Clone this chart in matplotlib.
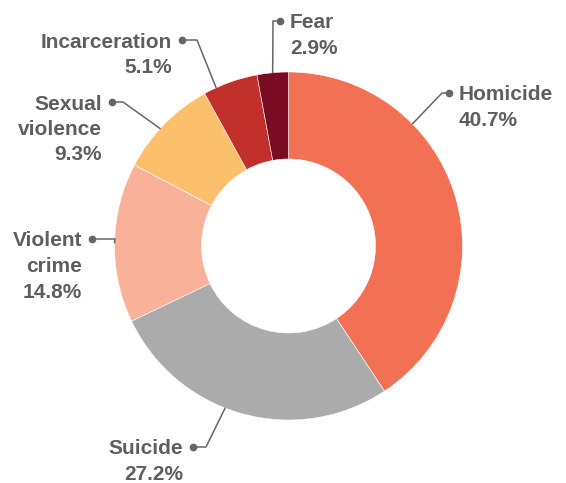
import numpy as np
import matplotlib
matplotlib.use("Agg")
import matplotlib.pyplot as plt

# data, clockwise from 12 o'clock
causes = ["Homicide", "Suicide", "Violent crime", "Sexual violence", "Incarceration", "Fear"]
shares = [40.7, 27.2, 14.8, 9.3, 5.1, 2.9]
label_lines = [["Homicide"], ["Suicide"], ["Violent", "crime"], ["Sexual", "violence"],
               ["Incarceration"], ["Fear"]]
colors = ["#f27155", "#ababab", "#f9b19a", "#fcc06d", "#c02f29", "#790c22"]

# label layout (pixels, y measured from top): where along the slice the leader starts,
# elbow point, dot point, side of text
anchor_frac = [0.31, 0.56, 0.5, 0.44, 0.23, 0.5]
elbows = [(442, 93), (206, 447), (115, 239), (123, 102), (197, 40), (273, 21)]
dots = [(449, 93), (193, 447), (92, 239), (112, 102), (182, 40), (280, 21)]
sides = ["right", "left", "left", "left", "left", "right"]

W, H = 566, 483
CX, CY, R = 288.5, 246, 174
TEXT = "#5e5e5e"
LINE = "#666666"


def fy(y):
    # pixel-from-top -> data y
    return H - y


fig = plt.figure(figsize=(W / 100, H / 100), dpi=100)
ax = fig.add_axes([0, 0, 1, 1])

ax.pie(shares, colors=colors, startangle=90, counterclock=False,
       radius=R, center=(CX, fy(CY)),
       wedgeprops=dict(width=R * 0.5, edgecolor="white", linewidth=0.4))

ax.set_xlim(0, W)
ax.set_ylim(0, H)
ax.set_aspect("equal")
ax.axis("off")

starts = np.concatenate([[0], np.cumsum(shares)[:-1]])
for i, name in enumerate(causes):
    theta = np.deg2rad(90 - 360 * (starts[i] + anchor_frac[i] * shares[i]) / 100)
    ax_pt = (CX + R * np.cos(theta), fy(CY) + R * np.sin(theta))
    ex, ey = elbows[i]
    dx, dy = dots[i]
    ax.plot([ax_pt[0], ex, dx], [ax_pt[1], fy(ey), fy(dy)], color=LINE, lw=1.1,
            solid_capstyle="round", zorder=3)
    ax.plot([dx], [fy(dy)], "o", color=LINE, ms=4.5, zorder=4)

    lines = label_lines[i] + ["{:.1f}%".format(shares[i])]
    if sides[i] == "right":
        tx, ha = dx + 10, "left"
    else:
        tx, ha = dx - 10, "right"
    for k, txt in enumerate(lines):
        ax.text(tx, fy(dy + 25.5 * k), txt, ha=ha, va="center_baseline",
                fontsize=15, fontweight="bold", color=TEXT,
                family=["Liberation Sans", "DejaVu Sans"])

fig.savefig("out.png", dpi=100)
